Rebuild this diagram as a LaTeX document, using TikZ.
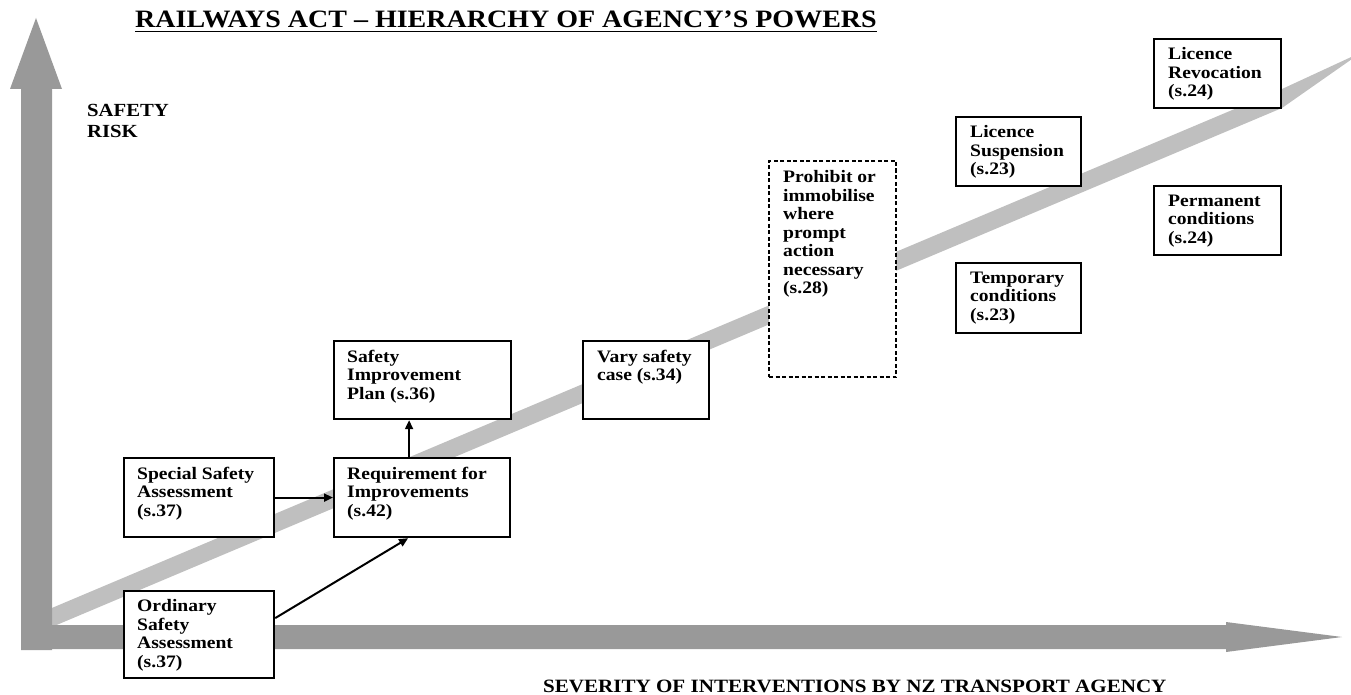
\documentclass[tikz,border=0pt]{standalone}
\usepackage{fontspec}
\setmainfont{Liberation Serif}[FakeStretch=1.12]
\usetikzlibrary{arrows.meta,calc}
\newcommand\bxfont{\fontsize{17.5}{18.5}\selectfont\bfseries}
\begin{document}
\begin{tikzpicture}[x=1pt,y=-1pt,
  axis/.style={fill=black!40, draw=none},
  band/.style={fill=black!25, draw=none},
  frame/.style={draw, line width=2.2pt, fill=white, inner sep=0pt, anchor=north west},
  dashframe/.style={frame, line width=2pt, dash pattern=on 4pt off 2.5pt},
  boxtext/.style={anchor=north west, inner sep=0pt, align=left, font=\bxfont},
  arr/.style={line width=2pt, -{Triangle[length=9pt,width=8pt]}},
  heading/.style={anchor=base west, inner sep=0pt, font=\bfseries}]
\useasboundingbox (0,0) rectangle (1351,695);

% rising diagonal band
\path[band] (40,613) -- (1282,89) -- (1362,52) -- (1282,108) -- (40,632) -- cycle;

% axes
\path[axis] (21,650) -- (21,89) -- (10,89) -- (36,18) -- (62,89) -- (52,89) -- (52,650) -- cycle;
\path[axis] (21,625) -- (1226,625) -- (1226,622) -- (1342,637) -- (1226,652) -- (1226,649) -- (21,649) -- cycle;

% title and axis labels
\node[heading, font=\fontsize{25}{28}\selectfont\bfseries] (title) at (135,28)
  {RAILWAYS ACT – HIERARCHY OF AGENCY’S POWERS};
\draw[line width=1.8pt] ([yshift=-3.5pt]title.base west) -- ([yshift=-3.5pt]title.base east);
\node[anchor=north west, inner sep=0pt, align=left, font=\fontsize{18.5}{21}\selectfont\bfseries]
  (risk) at (87,104) {SAFETY\\RISK};
\node[heading, font=\fontsize{18.8}{21}\selectfont\bfseries] (sev) at (543,692)
  {SEVERITY OF INTERVENTIONS BY NZ TRANSPORT AGENCY};

% boxes
\node[frame, minimum width=150pt, minimum height=79pt] (ssa) at (123,457) {};
\node[frame, minimum width=150pt, minimum height=87pt] (osa) at (123,590) {};
\node[frame, minimum width=176pt, minimum height=79pt] (req) at (333,457) {};
\node[frame, minimum width=177pt, minimum height=78pt] (sip) at (333,340) {};
\node[frame, minimum width=126pt, minimum height=78pt] (vary) at (582,340) {};
\node[dashframe, minimum width=127pt, minimum height=216pt] (proh) at (768,160) {};
\node[frame, minimum width=125pt, minimum height=69pt] (lsus) at (955,116) {};
\node[frame, minimum width=125pt, minimum height=70pt] (temp) at (955,262) {};
\node[frame, minimum width=127pt, minimum height=69pt] (lrev) at (1153,38) {};
\node[frame, minimum width=127pt, minimum height=69pt] (perm) at (1153,185) {};

% box texts
\node[boxtext] (ssa-t) at ([shift={(14pt,-9.5pt)}]ssa.north west) {Special Safety\\Assessment\\(s.37)};
\node[boxtext] (osa-t) at ([shift={(14pt,-9.5pt)}]osa.north west) {Ordinary\\Safety\\Assessment\\(s.37)};
\node[boxtext] (req-t) at ([shift={(14pt,-9.5pt)}]req.north west) {Requirement for\\Improvements\\(s.42)};
\node[boxtext] (sip-t) at ([shift={(14pt,-9.5pt)}]sip.north west) {Safety\\Improvement\\Plan (s.36)};
\node[boxtext] (vary-t) at ([shift={(15pt,-9.5pt)}]vary.north west) {Vary safety\\case (s.34)};
\node[boxtext] (proh-t) at ([shift={(15pt,-10.5pt)}]proh.north west) {Prohibit or\\immobilise\\where\\prompt\\action\\necessary\\(s.28)};
\node[boxtext] (lsus-t) at ([shift={(15pt,-9.5pt)}]lsus.north west) {Licence\\Suspension\\(s.23)};
\node[boxtext] (temp-t) at ([shift={(15pt,-9.5pt)}]temp.north west) {Temporary\\conditions\\(s.23)};
\node[boxtext] (lrev-t) at ([shift={(15pt,-9.5pt)}]lrev.north west) {Licence\\Revocation\\(s.24)};
\node[boxtext] (perm-t) at ([shift={(15pt,-9.5pt)}]perm.north west) {Permanent\\conditions\\(s.24)};

% connectors
\draw[arr] (ssa.east) -- (req.west);
\draw[arr] ([yshift=16.5pt]osa.east) -- ([xshift=-14pt]req.south);
\coordinate (rq) at ([xshift=-13pt]req.north);
\draw[arr] (rq) -- (rq |- sip.south);
\end{tikzpicture}
\end{document}
